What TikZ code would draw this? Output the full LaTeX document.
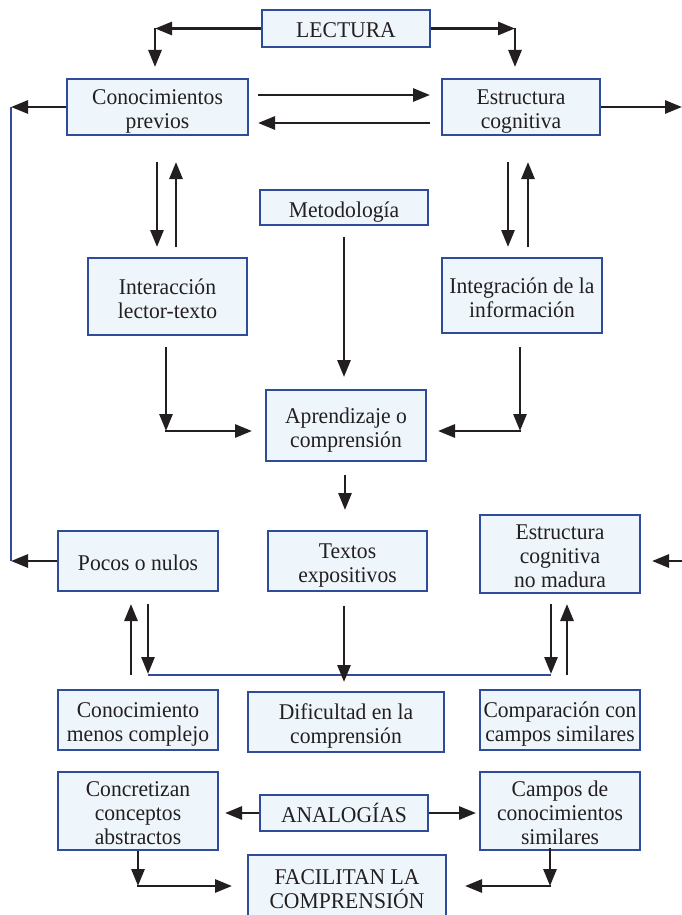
\documentclass[tikz,border=0pt]{standalone}
\usepackage{fontspec}
\setmainfont{Liberation Serif}[FakeStretch=0.96]
\usetikzlibrary{arrows.meta}
\definecolor{boxfill}{HTML}{EEF6FC}
\definecolor{boxline}{HTML}{2F4C9B}
\definecolor{ink}{HTML}{231F20}
\newcommand\topstrutx{\rule{0pt}{24.5pt}}
\tikzset{
 box/.style={draw=boxline, line width=2pt, fill=boxfill, align=center, text=ink,
   font=\fontsize{22.5}{24}\selectfont, inner sep=0pt,
   execute at end node={\rule[-5.5pt]{0pt}{0pt}}},
 arr/.style={draw=ink, line width=2.8pt, -{Triangle[length=17pt,width=13pt]}},
 bline/.style={draw=boxline, line width=2.6pt},
}
\begin{document}
\begin{tikzpicture}[x=1pt,y=-1pt]
\path[use as bounding box] (0,0) rectangle (682,915);
\clip (0,0) rectangle (682,915);
\fill[white] (0,0) rectangle (682,915);

% boxes
\node[box, minimum width=168pt, minimum height=37pt] (lect) at (346,28.5) {\topstrutx LECTURA};
\node[box, minimum width=181pt, minimum height=56pt] (conoc) at (157.5,107) {\topstrutx Conocimientos\\previos};
\node[box, minimum width=158pt, minimum height=56pt] (estr) at (521,107) {\topstrutx Estructura\\cognitiva};
\node[box, minimum width=168pt, minimum height=35pt] (metod) at (344,207.5) {\topstrutx Metodología};
\node[box, minimum width=159pt, minimum height=77pt] (inter) at (167.5,296.5) {\topstrutx Interacción\\lector-texto};
\node[box, minimum width=160pt, minimum height=75pt] (integ) at (522,295.5) {\topstrutx Integración de la\\información};
\node[box, minimum width=160pt, minimum height=71pt] (apren) at (346,425.5) {\topstrutx Aprendizaje o\\comprensión};
\node[box, minimum width=160pt, minimum height=60pt] (pocos) at (138,561) {\topstrutx Pocos o nulos};
\node[box, minimum width=159pt, minimum height=60pt] (textos) at (347.5,561) {\topstrutx Textos\\expositivos};
\node[box, minimum width=160pt, minimum height=74pt] (estrnm) at (560,554) {\topstrutx Estructura\\cognitiva\\no madura};
\node[box, minimum width=160pt, minimum height=60pt] (conmen) at (138,720) {\topstrutx Conocimiento\\menos complejo};
\node[box, minimum width=196pt, minimum height=60pt] (dific) at (346,722) {\topstrutx Dificultad en la\\comprensión};
\node[box, minimum width=160pt, minimum height=60pt] (compar) at (560,720) {\topstrutx Comparación con\\campos similares};
\node[box, minimum width=160pt, minimum height=74pt] (concret) at (138,811) {\topstrutx Concretizan\\conceptos\\abstractos};
\node[box, minimum width=168pt, minimum height=36pt] (analog) at (344,813) {\topstrutx ANALOGÍAS};
\node[box, minimum width=160pt, minimum height=74pt] (campos) at (560,811) {\topstrutx Campos de\\conocimientos\\similares};
\node[box, minimum width=198pt, minimum height=64pt] (facil) at (347,887) {\topstrutx FACILITAN LA\\COMPRENSIÓN};

% coordinates
\coordinate (lc) at (155,28.5);  \coordinate (lt) at (155,67);
\coordinate (rc) at (515,28.5);  \coordinate (rt) at (515,67);
\coordinate (cea) at (258,95);   \coordinate (ceb) at (430,95);
\coordinate (eca) at (430,123);  \coordinate (ecb) at (258,123);
\coordinate (L1) at (11,107);    \coordinate (L2) at (11,561);
\coordinate (R1) at (682,107);   \coordinate (R2) at (682,561); \coordinate (R3) at (652,561);
\coordinate (ci1) at (157,162);  \coordinate (ci2) at (157,247);
\coordinate (ic1) at (176,247);  \coordinate (ic2) at (176,162);
\coordinate (ei1) at (508,162);  \coordinate (ei2) at (508,247);
\coordinate (ie1) at (528,247);  \coordinate (ie2) at (528,162);
\coordinate (m1) at (344,237);   \coordinate (m2) at (344,377);
\coordinate (ia1) at (166,347);  \coordinate (ia2) at (166,431); \coordinate (ia3) at (252,431);
\coordinate (ga1) at (520,347);  \coordinate (ga2) at (520,431); \coordinate (ga3) at (438,431);
\coordinate (at1) at (345,475);  \coordinate (at2) at (345,510);
\coordinate (pu1) at (131,675);  \coordinate (pu2) at (131,604);
\coordinate (pd1) at (148,604);  \coordinate (pd2) at (148,674);
\coordinate (td1) at (344,606);  \coordinate (td2) at (344,682);
\coordinate (nd1) at (551,604);  \coordinate (nd2) at (551,674);
\coordinate (nu1) at (567,675);  \coordinate (nu2) at (567,604);
\coordinate (B1) at (148,675);   \coordinate (B2) at (551,675);
\coordinate (al) at (225,813);   \coordinate (ar) at (476,813);
\coordinate (cf1) at (138,886);  \coordinate (cf2) at (232,886);
\coordinate (kf0) at (550,848);  \coordinate (kf1) at (550,886); \coordinate (kf2) at (465,886);

% blue lines
\draw[bline] (L1) -- (L2);
\draw[bline] (B1) -- (B2);

% arrows
\draw[arr] (lect.west) -- (lc);
\draw[arr] (lc) -- (lt);
\draw[arr] (lect.east) -- (rc);
\draw[arr] (rc) -- (rt);
\draw[arr] (cea) -- (ceb);
\draw[arr] (eca) -- (ecb);
\draw[arr] (conoc.west) -- (L1);
\draw[arr] (pocos.west) -- (L2);
\draw[arr] (estr.east) -- (R1);
\draw[arr] (R2) -- (R3);
\draw[arr] (ci1) -- (ci2);
\draw[arr] (ic1) -- (ic2);
\draw[arr] (ei1) -- (ei2);
\draw[arr] (ie1) -- (ie2);
\draw[arr] (m1) -- (m2);
\draw[arr] (ia1) -- (ia2);
\draw[arr] ([xshift=-1.4pt]ia2) -- (ia3);
\draw[arr] (ga1) -- (ga2);
\draw[arr] ([xshift=1.4pt]ga2) -- (ga3);
\draw[arr] (at1) -- (at2);
\draw[arr] (pu1) -- (pu2);
\draw[arr] (pd1) -- (pd2);
\draw[arr] (td1) -- (td2);
\draw[arr] (nd1) -- (nd2);
\draw[arr] (nu1) -- (nu2);
\draw[arr] (analog.west) -- (al);
\draw[arr] (analog.east) -- (ar);
\draw[arr] (concret.south) -- (cf1);
\draw[arr] ([xshift=-1.4pt]cf1) -- (cf2);
\draw[arr] (kf0) -- (kf1);
\draw[arr] ([xshift=1.4pt]kf1) -- (kf2);
\end{tikzpicture}
\end{document}
